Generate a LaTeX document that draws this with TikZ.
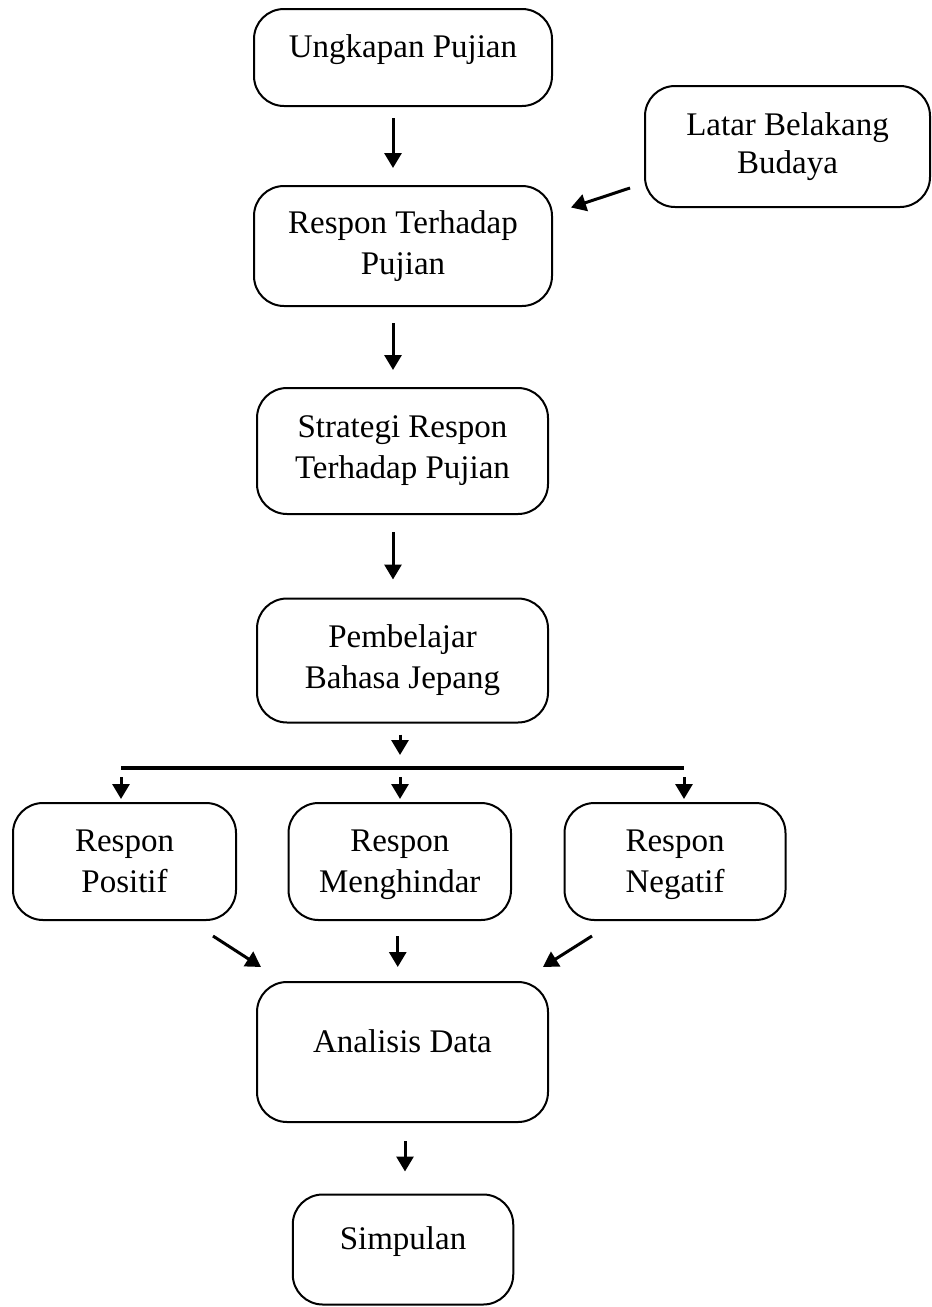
\documentclass[tikz,border=0pt]{standalone}
\usepackage{fontspec}
\setmainfont{Liberation Serif}
\usetikzlibrary{arrows.meta}
\begin{document}
\begin{tikzpicture}[x=0.5pt,y=-0.5pt,
  box/.style={draw, line width=1pt, rounded corners=15pt, inner sep=0pt,
    align=center, font=\fontsize{16.5pt}{20.5pt}\selectfont},
  oneline/.style={text height=10pt, text depth=10pt},
  nodepth/.style={text depth=0pt},
  arr/.style={line width=1.5pt, -{Triangle[width=8.5pt,length=7.5pt]}},
  bar/.style={line width=2pt}]
\useasboundingbox (0,0) rectangle (932,1307);
% boxes
\node[box, oneline, minimum width=149pt, minimum height=48.5pt] (b1) at (403,57.5) {Ungkapan Pujian};
\node[box, minimum width=149pt, minimum height=60pt] (b2) at (403,246) {Respon Terhadap\\Pujian};
\node[box, font=\fontsize{16.5pt}{19pt}\selectfont, minimum width=142.5pt, minimum height=60.5pt] (lb) at (787.5,146.5) {Latar Belakang\\Budaya};
\node[box, minimum width=145.5pt, minimum height=63pt] (b3) at (402.5,451) {Strategi Respon\\Terhadap Pujian};
\node[box, minimum width=145.5pt, minimum height=62pt] (b4) at (402.5,660.5) {Pembelajar\\Bahasa Jepang};
\node[box, nodepth, minimum width=111.5pt, minimum height=58.5pt] (p) at (124.5,861.5) {Respon\\Positif};
\node[box, nodepth, minimum width=111.25pt, minimum height=58.5pt] (m) at (399.75,861.5) {Respon\\Menghindar};
\node[box, nodepth, minimum width=110.5pt, minimum height=58.5pt] (n) at (675,861.5) {Respon\\Negatif};
\node[box, oneline, minimum width=145.5pt, minimum height=70pt] (an) at (402.5,1052) {Analisis Data};
\node[box, oneline, minimum width=110.25pt, minimum height=55pt] (s) at (403,1249.5) {Simpulan};
% bar
\coordinate (barL) at (121,768);
\coordinate (barM) at (400,768);
\coordinate (barR) at (684,768);
\draw[bar] (barL) -- (barR);
% connectors
\draw[arr, shorten <=5.5pt, shorten >=8.5pt] ([xshift=-5pt]b1.south) -- ([xshift=-5pt]b2.north);
\draw[arr, shorten <=8pt, shorten >=8.5pt] ([xshift=-5pt]b2.south) -- ([xshift=-4.75pt]b3.north);
\draw[arr, shorten <=8.5pt, shorten >=9pt] ([xshift=-4.75pt]b3.south) -- ([xshift=-4.75pt]b4.north);
\draw[arr, shorten <=5.5pt, shorten >=6.5pt] (b4.south -| barM) -- (barM);
\draw[arr, shorten <=4.5pt, shorten >=1.5pt] (barL) -- (barL |- p.north);
\draw[arr, shorten <=4.5pt, shorten >=1.5pt] (barM) -- (barM |- m.north);
\draw[arr, shorten <=4.5pt, shorten >=1.5pt] (barR) -- (barR |- n.north);
\draw[arr] ([xshift=-7pt,yshift=10pt]lb.south west) -- ([xshift=9pt,yshift=19.25pt]b2.east);
\draw[arr] ([xshift=-12pt,yshift=-7.5pt]p.south east) -- ([xshift=2.5pt,yshift=7pt]an.north west);
\draw[arr, shorten <=7.5pt, shorten >=7pt] ([xshift=-1pt]m.south) -- ([xshift=-1pt]m.south |- an.north);
\draw[arr] ([xshift=14.25pt,yshift=-7.5pt]n.south west) -- ([xshift=-3pt,yshift=7pt]an.north east);
\draw[arr, shorten <=9pt, shorten >=11pt] ([xshift=1.25pt]an.south) -- ([xshift=1pt]s.north);
\end{tikzpicture}
\end{document}
